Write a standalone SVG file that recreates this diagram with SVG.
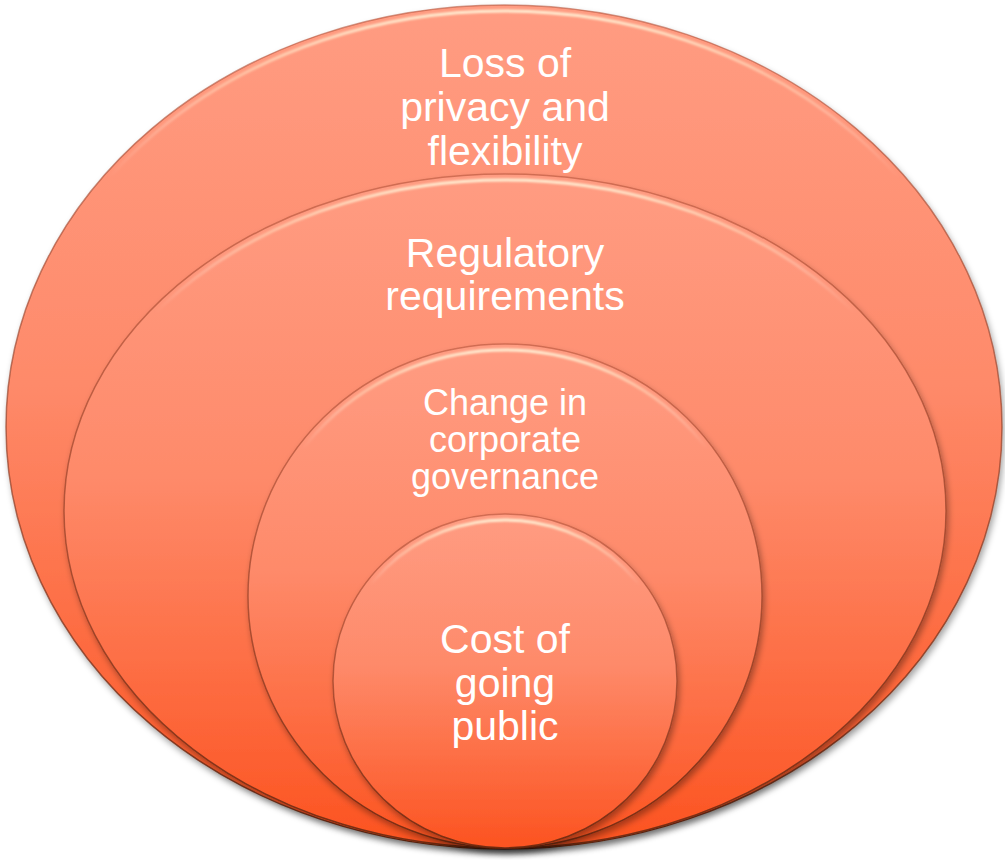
<svg xmlns="http://www.w3.org/2000/svg" width="1005" height="860" viewBox="0 0 1005 860">
<defs>
<linearGradient id="fill" x1="0" y1="0" x2="0" y2="1">
<stop offset="0" stop-color="#FF9C82"/>
<stop offset="0.45" stop-color="#FE8A6A"/>
<stop offset="1" stop-color="#FC5320"/>
</linearGradient>
<linearGradient id="edge" x1="0" y1="0" x2="0" y2="1">
<stop offset="0" stop-color="#B5533A" stop-opacity="0.6"/>
<stop offset="0.6" stop-color="#8A3A22" stop-opacity="0.7"/>
<stop offset="1" stop-color="#6A2810" stop-opacity="0.9"/>
</linearGradient>
<linearGradient id="rim" x1="0" y1="0" x2="0" y2="1">
<stop offset="0" stop-color="#FFF3D8" stop-opacity="0.95"/>
<stop offset="0.08" stop-color="#FFE8C8" stop-opacity="0.5"/>
<stop offset="0.2" stop-color="#FFFFFF" stop-opacity="0"/>
</linearGradient>
<filter id="shadow" x="-5%" y="-5%" width="110%" height="112%">
<feDropShadow dx="2" dy="4" stdDeviation="3" flood-color="#000" flood-opacity="0.35"/>
</filter>
<filter id="soft" x="-5%" y="-5%" width="110%" height="110%">
<feGaussianBlur stdDeviation="1"/>
</filter>
</defs>
<style>
.shape{fill:url(#fill);stroke:url(#edge);stroke-width:1.5;filter:url(#shadow)}
.rim{fill:none;stroke:url(#rim);stroke-width:3;filter:url(#soft)}
.lbl{font-family:"Liberation Sans",Arial,sans-serif;fill:#FFFFFF;text-anchor:middle}
</style>
<g id="connectors"/>
<g id="node-loss">
<ellipse class="shape" cx="504" cy="427" rx="498" ry="422"/>
<ellipse class="rim" cx="504" cy="429" rx="494" ry="418"/>
<text class="lbl" font-size="41"><tspan x="505" y="77">Loss of</tspan><tspan x="505" y="121">privacy and</tspan><tspan x="505" y="165">flexibility</tspan></text>
</g>
<g id="node-regulatory">
<ellipse class="shape" cx="505" cy="511" rx="441" ry="337"/>
<ellipse class="rim" cx="505" cy="513" rx="437" ry="333"/>
<text class="lbl" font-size="41"><tspan x="505" y="267">Regulatory</tspan><tspan x="505" y="310">requirements</tspan></text>
</g>
<g id="node-governance">
<ellipse class="shape" cx="505" cy="596" rx="257" ry="252"/>
<ellipse class="rim" cx="505" cy="598" rx="253" ry="248"/>
<text class="lbl" font-size="36"><tspan x="505" y="415">Change in</tspan><tspan x="505" y="452">corporate</tspan><tspan x="505" y="489">governance</tspan></text>
</g>
<g id="node-cost">
<ellipse class="shape" cx="505" cy="681" rx="172" ry="167"/>
<ellipse class="rim" cx="505" cy="683" rx="168" ry="163"/>
<text class="lbl" font-size="41"><tspan x="505" y="653">Cost of</tspan><tspan x="505" y="697">going</tspan><tspan x="505" y="740">public</tspan></text>
</g>
</svg>
